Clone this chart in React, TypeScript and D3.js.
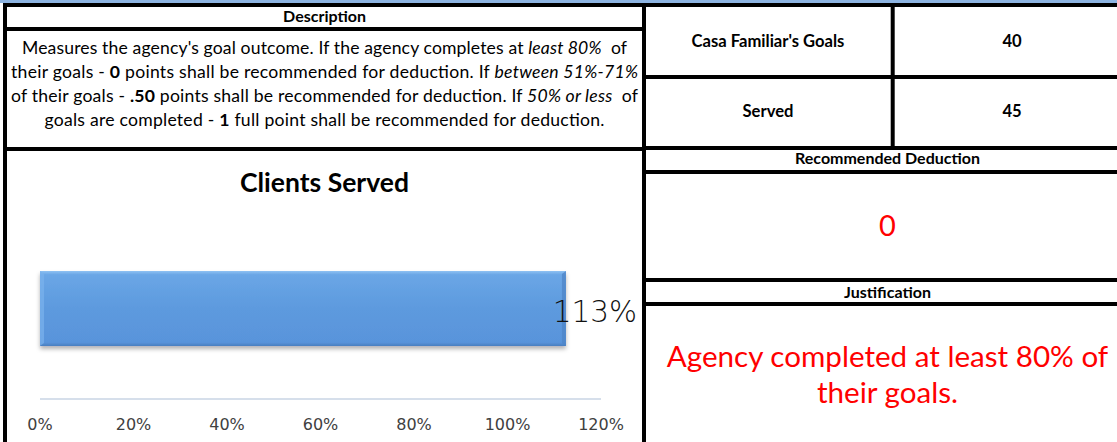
import React from "react";
import * as d3 from "d3";

// ---------- data ----------
const categories = ["Clients Served"];
const percentServed = [1.125];
const percentLabels = ["113%"];
const xTicks = [0, 0.2, 0.4, 0.6, 0.8, 1.0, 1.2];
const tableLabels = ["Casa Familiar's Goals", "Served"];
const tableValues = ["40", "45"];
const deductionValue = "0";
const justificationLines = ["Agency completed at least 80% of", "their goals."];

type Seg = { t: string; b?: boolean; i?: boolean };
const descriptionLines: Seg[][] = [
  [{ t: "Measures the agency's goal outcome. If the agency completes at " }, { t: "least 80%", i: true }, { t: "  of" }],
  [{ t: "their goals - " }, { t: "0", b: true }, { t: " points shall be recommended for deduction. If " }, { t: "between 51%-71%", i: true }],
  [{ t: "of their goals - " }, { t: ".50", b: true }, { t: " points shall be recommended for deduction. If " }, { t: "50% or less", i: true }, { t: "  of" }],
  [{ t: "goals are completed - " }, { t: "1", b: true }, { t: " full point shall be recommended for deduction." }],
];
const descriptionWidths = [605, 627, 627, 560];

const W = 1117;
const H = 442;
const FONT = "Lato, 'Open Sans', sans-serif";
const AXFONT = "'DejaVu Sans', sans-serif";

export default function App() {
  const x = d3.scaleLinear().domain([0, 1.2]).range([40, 601]);
  const y = d3.scaleBand<string>().domain(categories).range([218, 399]).padding(0.414);
  const leftCx = 324.5;
  const rightCx = 887.5;
  const line = (x1: number, y1: number, x2: number, y2: number, k: string) => (
    <line key={k} x1={x1} y1={y1} x2={x2} y2={y2} stroke="#000" strokeWidth={4} />
  );
  return (
    <svg width={W} height={H} style={{ position: "absolute", left: 0, top: 0, background: "#fff" }}>
      <defs>
        <linearGradient id="barGrad" x1="0" y1="0" x2="0" y2="1">
          <stop offset="0" stopColor="#8fc2f3" />
          <stop offset="0.05" stopColor="#6aa6e6" />
          <stop offset="0.5" stopColor="#5d9ade" />
          <stop offset="0.95" stopColor="#5994db" />
          <stop offset="1" stopColor="#4a7fc0" />
        </linearGradient>
        <filter id="shadow" x="-5%" y="-20%" width="110%" height="150%">
          <feDropShadow dx="0" dy="3" stdDeviation="2" floodColor="#000" floodOpacity="0.3" />
        </filter>
      </defs>
      <rect x={0} y={0} width={W} height={H} fill="#fff" />
      <rect x={0} y={0} width={W} height={3} fill="#8db4e2" />

      {/* Description */}
      <text x={leftCx} y={22} textAnchor="middle" fontFamily={FONT} fontWeight="bold" fontSize={16}>Description</text>
      {descriptionLines.map((segs, li) => (
        <text key={li} x={leftCx} y={54 + li * 24} textAnchor="middle" fontFamily={FONT} fontSize={17.6}
          textLength={descriptionWidths[li]} lengthAdjust="spacing" style={{ whiteSpace: "pre" }}>
          {segs.map((s, si) => (
            <tspan key={si} fontWeight={s.b ? "bold" : "normal"} fontStyle={s.i ? "italic" : "normal"}>{s.t}</tspan>
          ))}
        </text>
      ))}

      {/* Chart */}
      <text x={leftCx} y={192} textAnchor="middle" fontFamily={FONT} fontWeight="bold" fontSize={26.5}>Clients Served</text>
      <line x1={x(0)} x2={x(1.2)} y1={399} y2={399} stroke="#c9d5e4" strokeWidth={1.5} />
      {categories.map((c, i) => {
        const by = y(c) as number;
        const bh = y.bandwidth();
        const bx = x(0);
        const bw = x(percentServed[i]) - x(0);
        return (
          <g key={c}>
            <rect x={bx} y={by} width={bw} height={bh} fill="url(#barGrad)" filter="url(#shadow)" />
            <polygon points={`${bx + bw - 4},${by + 3} ${bx + bw},${by} ${bx + bw},${by + bh} ${bx + bw - 4},${by + bh - 3}`} fill="#4f86c8" opacity={0.8} />
            <polygon points={`${bx},${by} ${bx + 4},${by + 3} ${bx + 4},${by + bh - 3} ${bx},${by + bh}`} fill="#7ab2ec" opacity={0.7} />
            <text x={x(percentServed[i]) + 29} y={by + bh / 2 + 13.5} textAnchor="middle" fontFamily={AXFONT} fontWeight={200} fontSize={29.5} fill="#111">{percentLabels[i]}</text>
          </g>
        );
      })}
      {xTicks.map((t) => (
        <text key={t} x={x(t)} y={429.5} textAnchor="middle" fontFamily={AXFONT} fontSize={16} fill="#404040">{`${Math.round(t * 100)}%`}</text>
      ))}

      {/* Right table */}
      {tableLabels.map((lab, i) => (
        <g key={lab}>
          <text x={768} y={46.5 + i * 70} textAnchor="middle" fontFamily={FONT} fontWeight="bold" fontSize={16.6}>{lab}</text>
          <text x={1012} y={46.5 + i * 70} textAnchor="middle" fontFamily={FONT} fontWeight="bold" fontSize={16.6}>{tableValues[i]}</text>
        </g>
      ))}
      <text x={rightCx} y={163.5} textAnchor="middle" fontFamily={FONT} fontWeight="bold" fontSize={16}>Recommended Deduction</text>
      <text x={rightCx} y={236} textAnchor="middle" fontFamily={FONT} fontSize={29} fill="#ff0000">{deductionValue}</text>
      <text x={rightCx} y={297.5} textAnchor="middle" fontFamily={FONT} fontWeight="bold" fontSize={16}>Justification</text>
      {justificationLines.map((t, i) => (
        <text key={i} x={rightCx} y={367 + i * 36} textAnchor="middle" fontFamily={FONT} fontSize={29.6} fill="#ff0000">{t}</text>
      ))}

      {/* Grid lines */}
      {line(3, 5, W, 5, "top")}
      {line(5, 3, 5, H, "left")}
      {line(644, 3, 644, H, "mid")}
      {line(3, 29, 644, 29, "l1")}
      {line(3, 149, 644, 149, "l2")}
      {line(644, 77, W, 77, "r1")}
      {line(644, 148, W, 148, "r2")}
      {line(644, 172, W, 172, "r3")}
      {line(644, 280, W, 280, "r4")}
      {line(644, 304, W, 304, "r5")}
      {line(892.7, 5, 892.7, 148, "rv")}
    </svg>
  );
}
